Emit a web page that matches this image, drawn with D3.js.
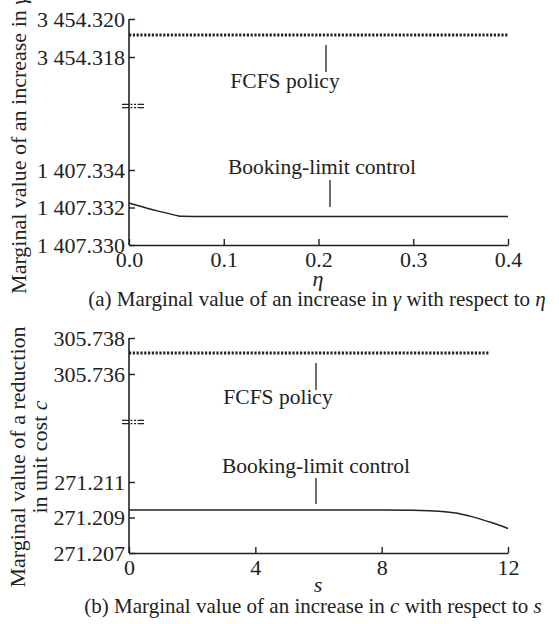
<!DOCTYPE html>
<html><head><meta charset="utf-8">
<script src="https://cdn.jsdelivr.net/npm/d3@7"></script>
<style>body{margin:0;background:#fff}svg{display:block}</style>
</head><body>
<svg id="c" width="559" height="624"></svg>
<script>
// ---- Panel (a) data ----
const etaTicks = [0.0, 0.1, 0.2, 0.3, 0.4];
const etaTickLabels = ["0.0", "0.1", "0.2", "0.3", "0.4"];
const aUpperTicks = [3454.318, 3454.320];
const aUpperTickLabels = ["3 454.318", "3 454.320"];
const aLowerTicks = [1407.330, 1407.332, 1407.334];
const aLowerTickLabels = ["1 407.330", "1 407.332", "1 407.334"];
const aFcfsEta = [0.0, 0.1, 0.2, 0.3, 0.4];
const aFcfsVal = [3454.31916, 3454.31916, 3454.31916, 3454.31916, 3454.31916];
const aBookEta = [0.0, 0.01, 0.02, 0.03, 0.04, 0.05, 0.055, 0.1, 0.2, 0.3, 0.4];
const aBookVal = [1407.33224, 1407.33209, 1407.33195, 1407.33182, 1407.33170, 1407.33158, 1407.33153, 1407.33152, 1407.33152, 1407.33152, 1407.33152];

// ---- Panel (b) data ----
const sTicks = [0, 4, 8, 12];
const sTickLabels = ["0", "4", "8", "12"];
const bUpperTicks = [305.736, 305.738];
const bUpperTickLabels = ["305.736", "305.738"];
const bLowerTicks = [271.207, 271.209, 271.211];
const bLowerTickLabels = ["271.207", "271.209", "271.211"];
const bFcfsS = [0, 4, 8, 11.4];
const bFcfsVal = [305.73717, 305.73717, 305.73717, 305.73717];
const bBookS = [0, 2, 4, 6, 8, 9, 9.5, 10, 10.5, 11, 11.5, 12];
const bBookVal = [271.20942, 271.20942, 271.20942, 271.20942, 271.20942, 271.20941, 271.20938, 271.20932, 271.20920, 271.20898, 271.20870, 271.20838];

const FONT = "Liberation Serif";
const INK = "#222";
const svg = d3.select("#c");

function txt(sel, size) {
  return sel.attr("font-family", FONT).attr("font-size", size).attr("fill", INK);
}

function panel(cfg) {
  const g = svg.append("g");
  const x = d3.scaleLinear().domain(cfg.xDomain).range([129, 508]);
  const yU = d3.scaleLinear().domain(cfg.uDomain).range(cfg.uRange);
  const yL = d3.scaleLinear().domain(cfg.lDomain).range(cfg.lRange);
  const top = cfg.uRange[1], bottom = cfg.lRange[0];

  g.append("line").attr("x1", 129).attr("x2", 129).attr("y1", top).attr("y2", bottom)
    .attr("stroke", INK).attr("stroke-width", 1.6);
  const xAxis = d3.axisBottom(x).tickValues(cfg.xTicks).tickSizeInner(-6).tickSizeOuter(0)
    .tickFormat((d, i) => cfg.xTickLabels[i]).tickPadding(9);
  const gx = g.append("g").attr("transform", `translate(0,${bottom})`).call(xAxis)
    .attr("font-family", FONT).attr("font-size", 22);
  gx.select(".domain").attr("stroke", INK).attr("stroke-width", 1.6);
  gx.selectAll(".tick line").attr("stroke", INK).attr("stroke-width", 1.4);
  txt(gx.selectAll("text"), 22).attr("dy", "0.6em");

  function yTicks(scale, ticks, labels) {
    const ax = d3.axisLeft(scale).tickValues(ticks).tickSizeInner(-6).tickSizeOuter(0)
      .tickFormat((d, i) => labels[i]);
    const gy = g.append("g").attr("transform", "translate(129,0)").call(ax)
      .attr("font-family", FONT).attr("font-size", 22);
    gy.select(".domain").remove();
    gy.selectAll(".tick line").attr("stroke", INK).attr("stroke-width", 1.4);
    txt(gy.selectAll("text"), 22).attr("x", -4).attr("dy", "0.33em");
  }
  yTicks(yU, cfg.uTicks, cfg.uTickLabels);
  yTicks(yL, cfg.lTicks, cfg.lTickLabels);

  [-1.6, 1.6].forEach(dy => {
    g.append("line").attr("x1", 122).attr("x2", 144).attr("y1", cfg.breakY + dy).attr("y2", cfg.breakY + dy)
      .attr("stroke", INK).attr("stroke-width", 1.2).attr("stroke-dasharray", "7,1.5,2,1.5,2,1.5,8");
  });

  g.append("path").datum(cfg.fx.map((v, i) => [v, cfg.fy[i]]))
    .attr("d", d3.line().x(d => x(d[0])).y(d => yU(d[1])))
    .attr("fill", "none").attr("stroke", INK).attr("stroke-width", 3).attr("stroke-dasharray", "2.2,1.6");
  g.append("path").datum(cfg.bx.map((v, i) => [v, cfg.by[i]]))
    .attr("d", d3.line().curve(d3.curveMonotoneX).x(d => x(d[0])).y(d => yL(d[1])))
    .attr("fill", "none").attr("stroke", INK).attr("stroke-width", 1.5);

  const fl = cfg.fcfsLabel;
  txt(g.append("text"), 21.5).attr("x", fl.tx).attr("y", fl.ty).attr("text-anchor", "middle").text("FCFS policy");
  g.append("line").attr("x1", fl.lx).attr("x2", fl.lx).attr("y1", fl.ly1).attr("y2", fl.ly2).attr("stroke", INK).attr("stroke-width", 1.3);
  const bl = cfg.bookLabel;
  txt(g.append("text"), 21.5).attr("x", bl.tx).attr("y", bl.ty).attr("text-anchor", "middle").text("Booking-limit control");
  g.append("line").attr("x1", bl.lx).attr("x2", bl.lx).attr("y1", bl.ly1).attr("y2", bl.ly2).attr("stroke", INK).attr("stroke-width", 1.3);

  txt(g.append("text"), 22).attr("x", 318).attr("y", cfg.xLabelY).attr("text-anchor", "middle")
    .attr("font-style", "italic").text(cfg.xLabel);
  const cap = txt(g.append("text"), 21).attr("x", cfg.capX).attr("y", cfg.capY).attr("text-anchor", "middle");
  cfg.caption.forEach(p => cap.append("tspan").attr("font-style", p[1] ? "italic" : "normal").text(p[0]));
  cfg.yLabel.forEach(line => {
    const t = txt(g.append("text"), 22).attr("transform", `translate(${line.x},${cfg.yLabelCY}) rotate(-90)`)
      .attr("text-anchor", "middle");
    line.parts.forEach(p => t.append("tspan").attr("font-style", p[1] ? "italic" : "normal").text(p[0]));
  });
}

panel({
  xDomain: [0, 0.4], xTicks: etaTicks, xTickLabels: etaTickLabels,
  uDomain: [3454.318, 3454.320], uRange: [57, 19], uTicks: aUpperTicks, uTickLabels: aUpperTickLabels,
  lDomain: [1407.330, 1407.334], lRange: [245, 170], lTicks: aLowerTicks, lTickLabels: aLowerTickLabels,
  breakY: 106,
  fx: aFcfsEta, fy: aFcfsVal, bx: aBookEta, by: aBookVal,
  fcfsLabel: {tx: 285, ty: 88, lx: 326, ly1: 45, ly2: 72},
  bookLabel: {tx: 322, ty: 174, lx: 330, ly1: 180, ly2: 207},
  xLabel: "η", xLabelY: 286,
  caption: [["(a) Marginal value of an increase in ", false], ["γ", true], [" with respect to ", false], ["η", true]],
  capX: 317, capY: 306,
  yLabel: [{x: 26, parts: [["Marginal value of an increase in ", false], ["γ", true]]}],
  yLabelCY: 145
});

panel({
  xDomain: [0, 12], xTicks: sTicks, xTickLabels: sTickLabels,
  uDomain: [305.736, 305.738], uRange: [374, 338], uTicks: bUpperTicks, uTickLabels: bUpperTickLabels,
  lDomain: [271.207, 271.211], lRange: [553, 482], lTicks: bLowerTicks, lTickLabels: bLowerTickLabels,
  breakY: 422,
  fx: bFcfsS, fy: bFcfsVal, bx: bBookS, by: bBookVal,
  fcfsLabel: {tx: 278, ty: 404, lx: 316, ly1: 363, ly2: 390},
  bookLabel: {tx: 316, ty: 473, lx: 316, ly1: 478, ly2: 504},
  xLabel: "s", xLabelY: 592,
  caption: [["(b) Marginal value of an increase in ", false], ["c", true], ["  with respect to ", false], ["s", true]],
  capX: 313, capY: 613,
  yLabel: [{x: 25, parts: [["Marginal value of a reduction", false]]}, {x: 47, parts: [["in unit cost ", false], ["c", true]]}],
  yLabelCY: 457
});
</script>
</body></html>
